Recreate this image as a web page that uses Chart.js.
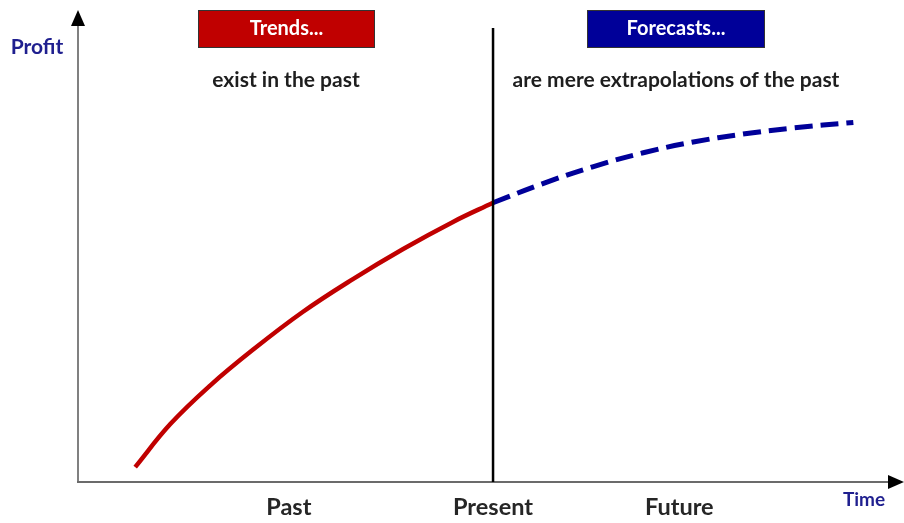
<!DOCTYPE html>
<html>
<head>
<meta charset="utf-8">
<script src="https://cdn.jsdelivr.net/npm/chart.js@4/dist/chart.umd.min.js"></script>
<style>
  html, body { margin: 0; padding: 0; background: #ffffff; }
  #wrap { width: 904px; height: 523px; position: relative; }
</style>
</head>
<body>
<div id="wrap"><canvas id="c" width="904" height="523"></canvas></div>
<script>
// Time runs 0..100 along the horizontal axis, profit 0..100 up the vertical one.
const trendTime   = [7.0, 11.3, 16.2, 21.4, 27.5, 33.7, 39.8, 45.9, 50.8];
const trendProfit = [3.2, 12.4, 20.7, 28.3, 36.4, 43.5, 49.9, 55.7, 59.8];

const forecastTime   = [50.8, 56.9, 63.0, 69.2, 75.3, 81.4, 87.5, 94.9];
const forecastProfit = [59.8, 63.9, 67.5, 70.5, 72.8, 74.5, 75.8, 77.0];

const presentTime = 50.8;
const presentSpan = [0, 97.2];

const periodLabels = ['Past', 'Present', 'Future'];
const periodTimes  = [25.8, 50.8, 73.6];

const FONT = 'Lato, "Open Sans", sans-serif';

const toPoints = (xs, ys) => xs.map((x, i) => ({ x: x, y: ys[i] }));

// Axes with arrowheads, headline boxes and captions
const decorations = {
  id: 'decorations',
  beforeDatasetsDraw(chart) {
    const ctx = chart.ctx;
    const xs = chart.scales.x, ys = chart.scales.y;
    const x0 = xs.getPixelForValue(0), y0 = ys.getPixelForValue(0);
    ctx.save();
    // vertical axis
    ctx.strokeStyle = '#808080';
    ctx.lineWidth = 2;
    ctx.beginPath();
    ctx.moveTo(x0, y0 + 1);
    ctx.lineTo(x0, 24);
    ctx.stroke();
    ctx.fillStyle = '#000000';
    ctx.beginPath();
    ctx.moveTo(x0, 10);
    ctx.lineTo(x0 - 7, 26);
    ctx.lineTo(x0 + 7, 26);
    ctx.closePath();
    ctx.fill();
    // horizontal axis
    ctx.strokeStyle = '#6b6b6b';
    ctx.beginPath();
    ctx.moveTo(x0 - 1, y0);
    ctx.lineTo(890, y0);
    ctx.stroke();
    ctx.beginPath();
    ctx.moveTo(904, y0);
    ctx.lineTo(888, y0 - 7);
    ctx.lineTo(888, y0 + 7);
    ctx.closePath();
    ctx.fill();
    ctx.restore();
  },
  afterDraw(chart) {
    const ctx = chart.ctx;
    const xs = chart.scales.x, ys = chart.scales.y;
    const y0 = ys.getPixelForValue(0);
    ctx.save();
    ctx.textAlign = 'center';
    ctx.textBaseline = 'middle';

    // headline boxes
    const box = (x1, x2, fill, text) => {
      ctx.fillStyle = fill;
      ctx.fillRect(x1, 10, x2 - x1, 37);
      ctx.strokeStyle = '#333333';
      ctx.lineWidth = 1;
      ctx.strokeRect(x1 + 0.5, 10.5, x2 - x1 - 1, 37);
      ctx.fillStyle = '#ffffff';
      ctx.font = 'bold 20px ' + FONT;
      ctx.fillText(text, (x1 + x2) / 2, 29);
    };
    box(198, 375, '#c00000', 'Trends...');
    box(587, 765, '#000099', 'Forecasts...');

    ctx.fillStyle = '#1e1e1e';
    ctx.font = 'bold 21px ' + FONT;
    ctx.fillText('exist in the past', 286, 80);
    ctx.fillText('are mere extrapolations of the past', 676, 80);

    // axis titles
    ctx.fillStyle = '#1f1f8f';
    ctx.font = 'bold 21px ' + FONT;
    ctx.fillText('Profit', 37, 47);
    ctx.font = 'bold 19px ' + FONT;
    ctx.fillText('Time', 864, 500);

    // period labels under the time axis
    ctx.fillStyle = '#262626';
    ctx.font = 'bold 23.5px ' + FONT;
    periodLabels.forEach((lab, i) => {
      ctx.fillText(lab, xs.getPixelForValue(periodTimes[i]), y0 + 25);
    });
    ctx.restore();
  }
};

new Chart(document.getElementById('c'), {
  type: 'line',
  data: {
    datasets: [
      {
        label: 'Present',
        data: toPoints([presentTime, presentTime], presentSpan),
        borderColor: '#000000',
        borderWidth: 2.5,
        pointRadius: 0,
        tension: 0
      },
      {
        label: 'Trend',
        data: toPoints(trendTime, trendProfit),
        borderColor: '#c00000',
        borderWidth: 4.5,
        pointRadius: 0,
        tension: 0.4,
        borderCapStyle: 'butt'
      },
      {
        label: 'Forecast',
        data: toPoints(forecastTime, forecastProfit),
        borderColor: '#000099',
        borderWidth: 5,
        borderDash: [18, 8],
        pointRadius: 0,
        tension: 0.4,
        borderCapStyle: 'butt'
      }
    ]
  },
  options: {
    responsive: false,
    animation: false,
    events: [],
    layout: { padding: { left: 78, right: 9, top: 15, bottom: 41 } },
    plugins: { legend: { display: false }, tooltip: { enabled: false } },
    scales: {
      x: { type: 'linear', min: 0, max: 100, display: false },
      y: { type: 'linear', min: 0, max: 100, display: false }
    }
  },
  plugins: [decorations]
});
</script>
</body>
</html>
